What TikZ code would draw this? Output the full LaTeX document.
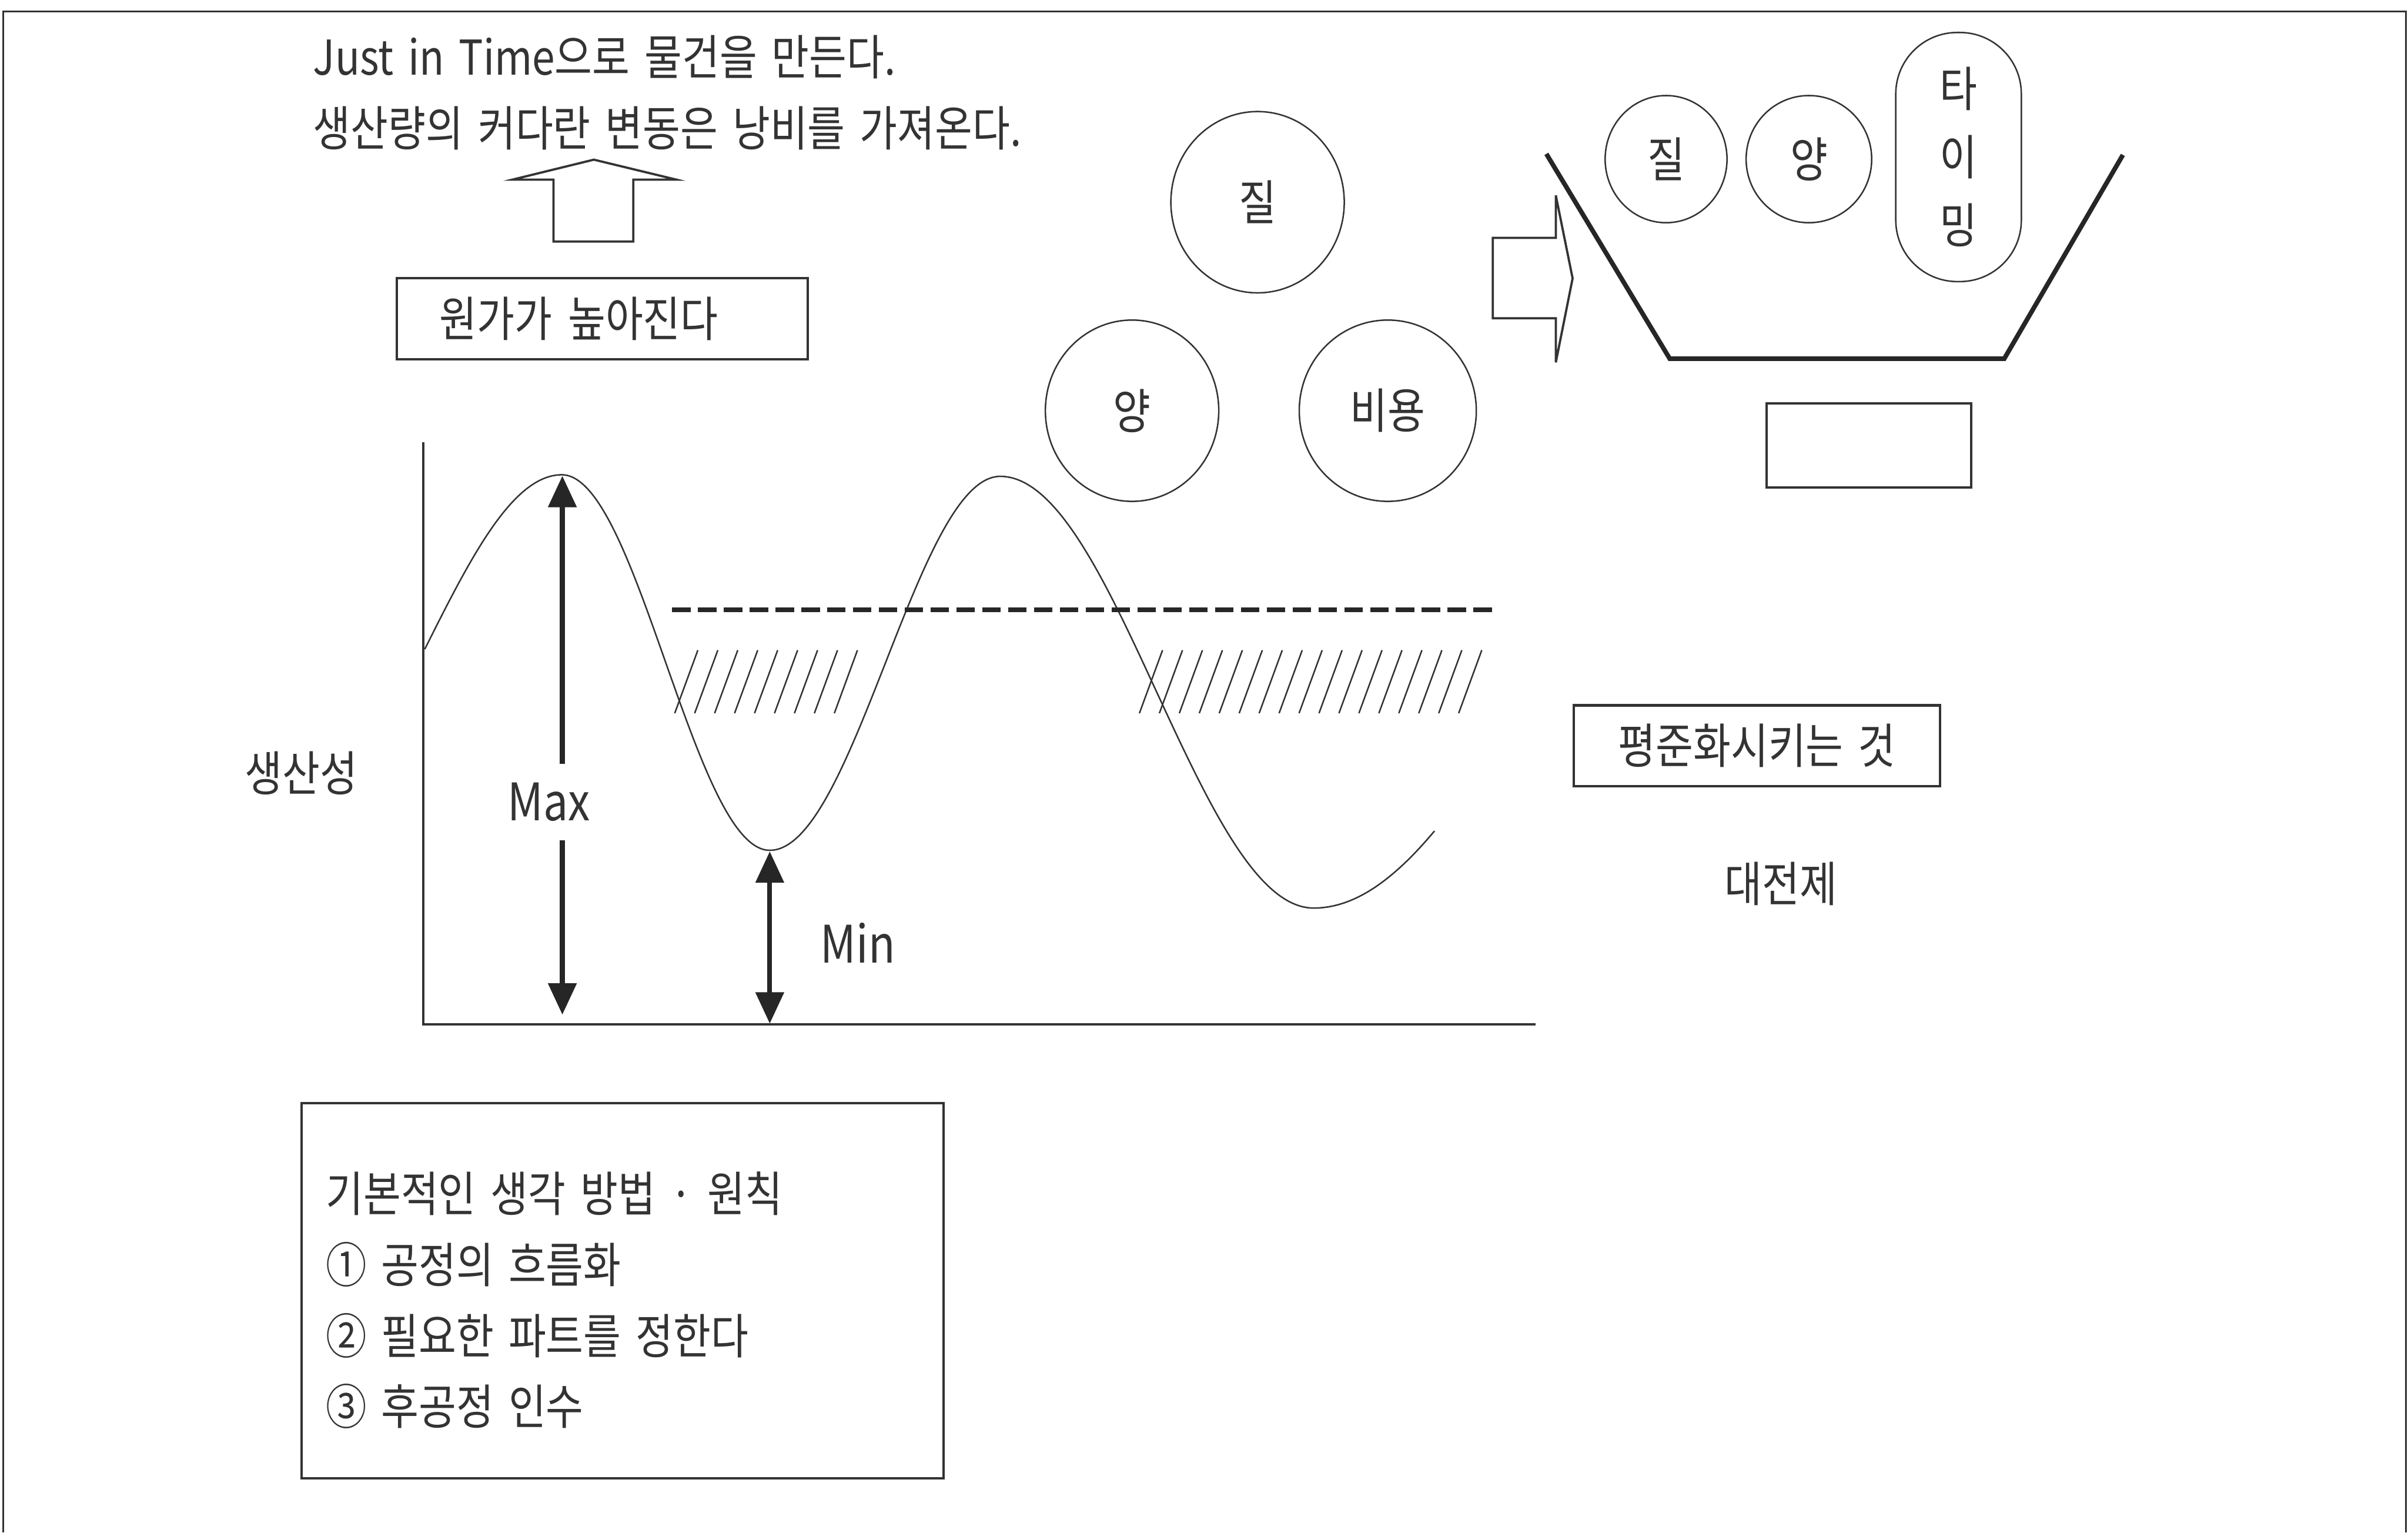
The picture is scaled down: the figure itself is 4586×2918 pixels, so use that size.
\documentclass[tikz,border=0pt]{standalone}
\usepackage{fontspec}
\setmainfont{Noto Sans CJK KR}[FakeStretch=0.85, WordSpace=1.6]
\usetikzlibrary{arrows.meta, shapes.geometric}
\begin{document}
\begin{tikzpicture}[x=0.01cm, y=-0.01cm,
  ink/.style={black!80},
  frameline/.style={ink, line width=0.9pt},
  txt/.style={inner sep=0pt, text=black!80, font=\fontsize{26}{38.4}\selectfont},
  latin/.style={inner sep=0pt, text=black!80, font=\fontsize{28}{38}\selectfont},
  boxst/.style={draw=black!80, line width=1.3pt, rectangle, inner sep=0pt, text=black!80, font=\fontsize{26}{38.4}\selectfont},
  circst/.style={draw=black!80, line width=0.8pt, ellipse, inner sep=0pt, text=black!80, font=\fontsize{26}{38.4}\selectfont},
  blockarrow/.style={draw=black!80, line width=1.2pt, line join=miter},
  hopperline/.style={draw=black!85, line width=2.5pt, line join=miter},
  axisline/.style={draw=black!80, line width=1.3pt},
  wave/.style={draw=black!80, line width=0.8pt},
  dashedlevel/.style={draw=black!85, line width=2.4pt, dash pattern=on 10pt off 4pt},
  hatchline/.style={draw=black!80, line width=0.8pt},
  dimline/.style={draw=black!85, line width=2.6pt, -{Triangle[length=17pt, width=15pt]}},
  dimboth/.style={draw=black!85, line width=2.6pt, {Triangle[length=17pt, width=15pt]}-{Triangle[length=17pt, width=15pt]}}
]
\useasboundingbox (0,0) rectangle (4586,2918);

% frame
\draw[frameline] (4582,2918) -- (4582,22) -- (6,22) -- (6,2918);

% top texts
\node[txt, anchor=west] (jit) at (596,108) {Just in Time으로 물건을 만든다.};
\node[txt, anchor=west] (waste) at (596,244) {생산량의 커다란 변동은 낭비를 가져온다.};

% up block arrow
\draw[blockarrow] (1054,460) -- (1054,342) -- (976,342) -- (1131,304) -- (1288,342) -- (1206,342) -- (1206,460) -- cycle;

% cost box
\node[boxst, minimum width=7.83cm, minimum height=1.54cm, text width=6.2cm, align=left] (cost) at (1147,607) {원가가 높아진다};

% big circles
\node[circst, minimum width=3.3cm, minimum height=3.45cm] (quality) at (2395,385) {질};
\node[circst, minimum width=3.3cm, minimum height=3.45cm] (quantity) at (2156,782) {양};
\node[circst, minimum width=3.37cm, minimum height=3.45cm] (expense) at (2643,782) {비용};

% right block arrow
\draw[blockarrow] (2843,453) -- (2963,453) -- (2963,372) -- (2995,530) -- (2963,690) -- (2963,606) -- (2843,606) -- cycle;

% hopper
\draw[hopperline] (2945,293) -- (3180,683) -- (3817,683) -- (4043,295);
\node[circst, minimum width=2.32cm, minimum height=2.42cm] (hq) at (3173,303) {질};
\node[circst, minimum width=2.39cm, minimum height=2.42cm] (hqty) at (3445,303) {양};
\node[draw=black!80, line width=0.8pt, rectangle, rounded corners=1.17cm, minimum width=2.39cm, minimum height=4.74cm, inner sep=0pt, align=center, text=black!80, font=\fontsize{26}{37}\selectfont] (timing) at (3730,299) {타\\이\\밍};
\node[boxst, minimum width=3.89cm, minimum height=1.6cm] (emptybox) at (3559,848) {};

% chart axes
\coordinate (ytop) at (806,842);
\coordinate (orig) at (806,1950);
\coordinate (xend) at (2925,1950);
\draw[axisline] (ytop) -- (orig) -- (xend);

% wave
\draw[wave] (809,1236) sin (1070,904) cos (1268,1262) sin (1466,1619) cos (1686,1263) sin (1905,907) cos (2203,1318) sin (2502,1729);
\draw[wave] plot[domain=0:50, samples=25] ({2502+4.6*\x}, {1729-411*(1-cos(\x))});

% dashed level line
\coordinate (lvlA) at (1280,1161);
\coordinate (lvlB) at (2855,1161);
\draw[dashedlevel] (lvlA) -- (lvlB);

% hatching
\foreach \x in {1285,1323,...,1590} \draw[hatchline] (\x,1358) -- (\x+44,1238);
\foreach \x in {2170,2208,...,2790} \draw[hatchline] (\x,1358) -- (\x+44,1238);

% Max arrow
\coordinate (peak) at (1071,906);
\coordinate (maxbot) at (1071,1932);
\node[latin, inner ysep=10pt] (maxlbl) at (1045,1527) {Max};
\draw[dimline] (maxlbl.north -| peak) -- (peak);
\draw[dimline] (maxlbl.south -| peak) -- (maxbot);

% Min arrow
\coordinate (trough) at (1466,1621);
\coordinate (minbot) at (1466,1949);
\draw[dimboth] (trough) -- (minbot);
\node[latin] (minlbl) at (1634,1795) {Min};

% axis label
\node[txt] (prod) at (574,1472) {생산성};

% levelling box and premise
\node[boxst, minimum width=6.97cm, minimum height=1.54cm] (level) at (3346,1420) {평준화시키는 것};
\node[txt] (premise) at (3392,1683) {대전제};

% principles box
\node[boxst, minimum width=12.22cm, minimum height=7.14cm] (principles) at (1186,2458) {};
\node[txt, anchor=west, align=left] (plist) at (620,2476) {기본적인 생각 방법 · 원칙\\① 공정의 흐름화\\② 필요한 파트를 정한다\\③ 후공정 인수};
\end{tikzpicture}
\end{document}
